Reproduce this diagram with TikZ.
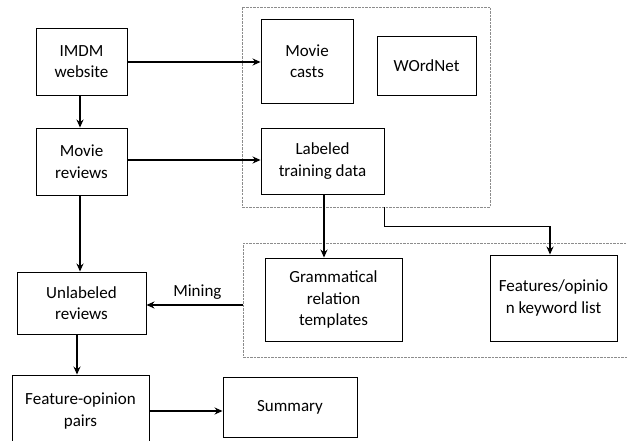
\documentclass[tikz,border=0pt]{standalone}
\usepackage{fontspec}
\setmainfont{Carlito}
\usetikzlibrary{arrows.meta,positioning}
\begin{document}
\begin{tikzpicture}[x=1pt,y=-1pt,
  box/.style={draw=black,line width=0.9pt,align=center,inner sep=0pt,font=\fontsize{17}{21.5}\selectfont},
  grp/.style={draw=black!45,dashed,dash pattern=on 2.5pt off 1pt,line width=0.9pt,inner sep=0pt},
  arr/.style={line width=1.5pt,-{Stealth[length=8pt,width=7pt]}},
  lbl/.style={font=\fontsize{17}{21}\selectfont,inner sep=0pt}]
\useasboundingbox (0,0) rectangle (627,441);
\clip (0,0) rectangle (627,441);
% groups
\node[grp,minimum width=248pt,minimum height=200pt] (g1) at (366,107) {};
\node[grp,minimum width=397pt,minimum height=114pt] (g2) at (441.5,300) {};
% nodes
\node[box,minimum width=91pt,minimum height=67pt] (imdm) at (81.5,61.5) {IMDM\\website};
\node[box,minimum width=91pt,minimum height=67pt] (reviews) at (81.5,161.5) {Movie\\reviews};
\node[box,minimum width=92pt,minimum height=84pt] (casts) at (307,61) {Movie\\casts};
\node[box,minimum width=99pt,minimum height=59pt] (wordnet) at (426.5,65.5) {WOrdNet};
\node[box,minimum width=123pt,minimum height=66pt] (labeled) at (322.5,161) {Labeled\\training data};
\node[box,minimum width=129pt,minimum height=62pt] (unlabeled) at (81.5,303) {Unlabeled\\reviews};
\node[box,minimum width=137pt,minimum height=83pt] (gram) at (333.5,299.5) {Grammatical\\relation\\templates};
\node[box,minimum width=127pt,minimum height=86pt] (feat) at (553.5,298) {Features/opinio\\n keyword list};
\node[box,minimum width=137pt,minimum height=72pt] (fop) at (80.5,411) {Feature-opinion\\pairs};
\node[box,minimum width=134pt,minimum height=60pt] (summary) at (290,407) {Summary};
% connectors
\draw[arr] (imdm.south -| 80,0) -- (reviews.north -| 80,0);
\draw[arr] (imdm.east |- 0,62) -- (casts.west |- 0,62);
\draw[arr] (reviews.east |- 0,160) -- (labeled.west |- 0,160);
\draw[arr] (reviews.south -| 80,0) -- (unlabeled.north -| 80,0);
\draw[arr] (unlabeled.south -| 77,0) -- (fop.north -| 77,0);
\draw[arr] (g2.west |- 0,305) -- node[lbl,above=5pt,pos=0.47] (mining) {Mining} (unlabeled.east |- 0,305);
\draw[arr] (labeled.south -| 324,0) -- (gram.north -| 324,0);
\coordinate (c1) at (384,226);
\coordinate (c2) at (550,226);
\draw[line width=1pt] (g1.south -| c1) -- (c1) -- (c2);
\draw[arr] (c2) -- (feat.north -| c2);
\draw[arr] (fop.east |- 0,411) -- (summary.west |- 0,411);
\end{tikzpicture}
\end{document}
